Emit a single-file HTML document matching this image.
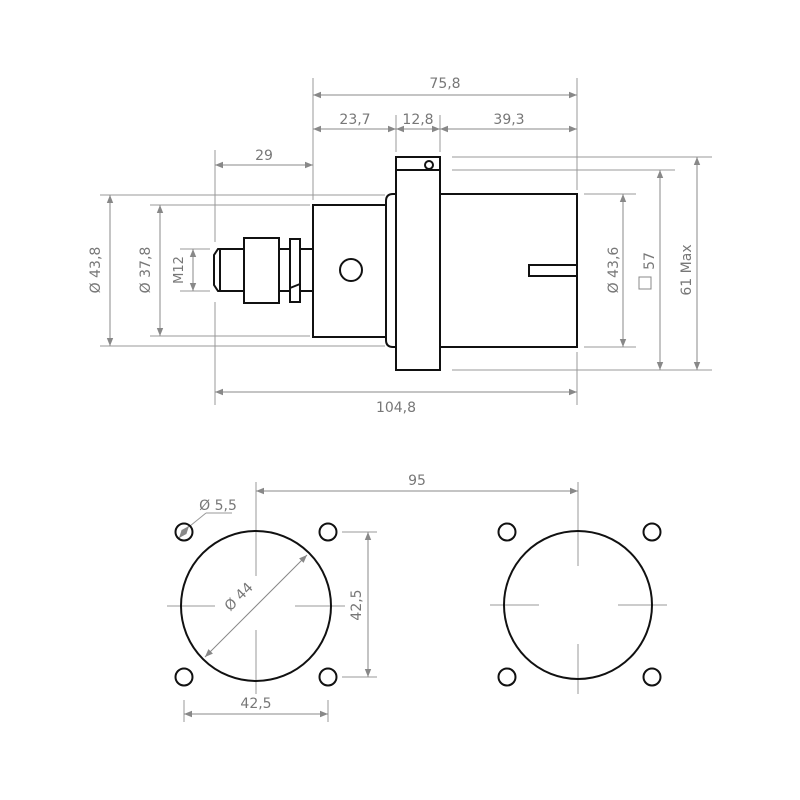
<!DOCTYPE html>
<html><head><style>html,body{margin:0;background:#fff}svg{display:block}</style></head><body>
<svg width="800" height="800" viewBox="0 0 800 800" xmlns="http://www.w3.org/2000/svg" font-family="DejaVu Sans, Liberation Sans, sans-serif">
<defs>
<marker id="a" viewBox="0 0 10 10" refX="10" refY="5" markerWidth="10" markerHeight="8" orient="auto-start-reverse" markerUnits="userSpaceOnUse"><path d="M0,1 L10,5 L0,9 z" fill="#888"/></marker>
</defs>
<g stroke="#999" stroke-width="1" fill="none">
<line x1="313" y1="78" x2="313" y2="200"/>
<line x1="577" y1="78" x2="577" y2="190"/>
<line x1="577" y1="352" x2="577" y2="405"/>
<line x1="396" y1="115" x2="396" y2="152"/>
<line x1="440" y1="115" x2="440" y2="152"/>
<line x1="215" y1="150" x2="215" y2="242"/>
<line x1="215" y1="302" x2="215" y2="405"/>
<line x1="100" y1="195" x2="385" y2="195"/>
<line x1="100" y1="346" x2="385" y2="346"/>
<line x1="150" y1="205" x2="310" y2="205"/>
<line x1="150" y1="336" x2="310" y2="336"/>
<line x1="180" y1="249" x2="210" y2="249"/>
<line x1="180" y1="291" x2="210" y2="291"/>
<line x1="452" y1="157" x2="712" y2="157"/>
<line x1="452" y1="170" x2="675" y2="170"/>
<line x1="452" y1="370" x2="712" y2="370"/>
<line x1="584" y1="194" x2="636" y2="194"/>
<line x1="584" y1="347" x2="636" y2="347"/>
<line x1="256" y1="482" x2="256" y2="576"/><line x1="256" y1="630" x2="256" y2="694"/>
<line x1="167" y1="606" x2="215" y2="606"/><line x1="295" y1="606" x2="345" y2="606"/>
<line x1="578" y1="482" x2="578" y2="566"/><line x1="578" y1="644" x2="578" y2="694"/>
<line x1="490" y1="605" x2="539" y2="605"/><line x1="618" y1="605" x2="667" y2="605"/>
<line x1="184" y1="700" x2="184" y2="722"/><line x1="328" y1="700" x2="328" y2="722"/>
<line x1="342" y1="532" x2="377" y2="532"/><line x1="342" y1="677" x2="377" y2="677"/>
<line x1="190" y1="526" x2="206" y2="513"/><line x1="206" y1="513" x2="232" y2="513"/>
</g>
<g stroke="#888" stroke-width="1" fill="none" marker-start="url(#a)" marker-end="url(#a)">
<line x1="313" y1="95" x2="577" y2="95"/>
<line x1="313" y1="129" x2="396" y2="129"/>
<line x1="396" y1="129" x2="440" y2="129"/>
<line x1="440" y1="129" x2="577" y2="129"/>
<line x1="215" y1="165" x2="313" y2="165"/>
<line x1="215" y1="392" x2="577" y2="392"/>
<line x1="110" y1="195" x2="110" y2="346"/>
<line x1="160" y1="205" x2="160" y2="336"/>
<line x1="193" y1="249" x2="193" y2="291"/>
<line x1="623" y1="194" x2="623" y2="347"/>
<line x1="660" y1="170" x2="660" y2="370"/>
<line x1="697" y1="157" x2="697" y2="370"/>
<line x1="256" y1="491" x2="578" y2="491"/>
<line x1="184" y1="714" x2="328" y2="714"/>
<line x1="368" y1="532" x2="368" y2="677"/>
<line x1="205" y1="657" x2="307" y2="555"/>
<line x1="179" y1="538" x2="189" y2="526"/>
</g>
<g stroke="#111" stroke-width="2" fill="none">
<rect x="396" y="157" width="44" height="213"/>
<line x1="396" y1="170" x2="440" y2="170"/>
<circle cx="429" cy="165" r="4"/>
<rect x="440" y="194" width="137" height="153"/>
<path d="M577,265 H529 V276 H577"/>
<rect x="313" y="205" width="73" height="132"/>
<path d="M396,194 H393 Q386,194 386,201 V340 Q386,347 393,347 H396"/>
<circle cx="351" cy="270" r="11"/>
<rect x="244" y="238" width="35" height="65"/>
<rect x="290" y="239" width="10" height="63"/>
<path d="M279,249 H290 M279,291 H290 M300,249 H313 M300,291 H313"/>
<path d="M244,249 H218 L214,255 V285 L218,291 H244"/>
<line x1="220" y1="250" x2="220" y2="290"/>
<line x1="290" y1="288" x2="300" y2="284"/>
<circle cx="256" cy="606" r="75"/>
<circle cx="184" cy="532" r="8.5"/><circle cx="328" cy="532" r="8.5"/>
<circle cx="184" cy="677" r="8.5"/><circle cx="328" cy="677" r="8.5"/>
<circle cx="578" cy="605" r="74"/>
<circle cx="507" cy="532" r="8.5"/><circle cx="652" cy="532" r="8.5"/>
<circle cx="507" cy="677" r="8.5"/><circle cx="652" cy="677" r="8.5"/>
</g>
<g fill="#777" font-size="14" text-anchor="middle">
<text x="445" y="88">75,8</text>
<text x="355" y="124">23,7</text>
<text x="418" y="124">12,8</text>
<text x="509" y="124">39,3</text>
<text x="264" y="160">29</text>
<text x="396" y="412">104,8</text>
<text transform="translate(100,270) rotate(-90)">Ø 43,8</text>
<text transform="translate(150,270) rotate(-90)">Ø 37,8</text>
<text transform="translate(183,270) rotate(-90)" font-size="13">M12</text>
<text transform="translate(618,270) rotate(-90)">Ø 43,6</text>
<text transform="translate(654,261) rotate(-90)">57</text>
<text transform="translate(691,270) rotate(-90)">61 Max</text>
<text x="417" y="485">95</text>
<text x="256" y="708">42,5</text>
<text transform="translate(361,605) rotate(-90)">42,5</text>
<text transform="translate(242,600) rotate(-45)">Ø 44</text>
<text x="218" y="510">Ø 5,5</text>
</g>
<rect x="639" y="277" width="12" height="12" fill="none" stroke="#888" stroke-width="1"/>
</svg>
</body></html>
